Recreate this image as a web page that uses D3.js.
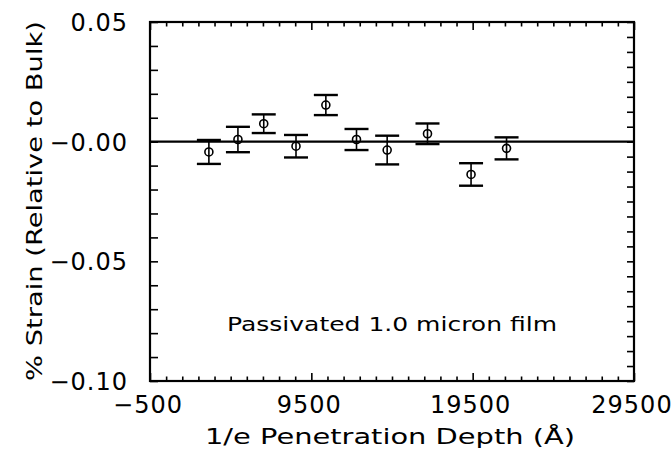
<!DOCTYPE html>
<html><head><meta charset="utf-8">
<script src="https://cdn.jsdelivr.net/npm/d3@7"></script>
<style>body{margin:0;background:#fff} svg{display:block}</style>
</head><body><svg id="c" width="672" height="452"></svg>
<script>
// Data
const depth = [3150, 4950, 6550, 8550, 10400, 12300, 14200, 16700, 19400, 21600];
const strain = [-0.0043, 0.0009, 0.0075, -0.0019, 0.0153, 0.0009, -0.0035, 0.0033, -0.0137, -0.0028];
const strainErr = [0.0050, 0.0053, 0.0039, 0.0047, 0.0042, 0.0044, 0.0060, 0.0043, 0.0047, 0.0046];
const xTickValues = [-500, 9500, 19500, 29500];
const xTickLabels = ["\u2212500", "9500", "19500", "29500"];
const yTickValues = [0.05, 0, -0.05, -0.10];
const yTickLabels = ["0.05", "\u22120.00", "\u22120.05", "\u22120.10"];
const xTitle = "1/e Penetration Depth (\u00C5)";
const yTitle = "% Strain (Relative to Bulk)";
const note = "Passivated 1.0 micron film";

const svg = d3.select("#c");
const L = 150, R = 634, T = 22, B = 381;
const x = d3.scaleLinear().domain([-500, 29500]).range([L, R]);
const y = d3.scaleLinear().domain([-0.10, 0.05]).range([B, T]);
const font = "'DejaVu Sans', sans-serif";

// minor tick definitions
const xMinor = d3.range(-500, 29501, 1000);
const yMinorL = d3.range(0, 16).map(i => 0.05 - i * 0.01);
const yMinorR = d3.range(0, 25).map(i => 0.05 - i * 0.00625);

const g = svg.append("g").attr("stroke", "#000").attr("fill", "none");

// bottom axis (ticks inward)
const xb = d3.axisBottom(x).tickValues(xMinor).tickSize(-4).tickFormat("");
const gxb = svg.append("g").attr("transform", `translate(0,${B})`).call(xb);
const xt = d3.axisTop(x).tickValues(xMinor).tickSize(-4).tickFormat("");
const gxt = svg.append("g").attr("transform", `translate(0,${T})`).call(xt);
[gxb, gxt].forEach(a => {
  a.select(".domain").remove();
  a.selectAll(".tick line").attr("stroke", "#000").attr("stroke-width", 1.6)
    .attr("y2", d => (xTickValues.includes(d) ? 8 : 4.5) * (a === gxb ? -1 : 1));
});
const yl = d3.axisLeft(y).tickValues(yMinorL).tickSize(-8).tickFormat("");
const gyl = svg.append("g").attr("transform", `translate(${L},0)`).call(yl);
const yr = d3.axisRight(y).tickValues(yMinorR).tickSize(-7).tickFormat("");
const gyr = svg.append("g").attr("transform", `translate(${R},0)`).call(yr);
[gyl, gyr].forEach(a => {
  a.select(".domain").remove();
  a.selectAll(".tick line").attr("stroke", "#000").attr("stroke-width", 1.6);
});

// frame
svg.append("rect").attr("x", L).attr("y", T).attr("width", R - L).attr("height", B - T)
  .attr("fill", "none").attr("stroke", "#000").attr("stroke-width", 2.2);

// zero line
svg.append("line").attr("x1", L).attr("x2", R).attr("y1", y(0)).attr("y2", y(0))
  .attr("stroke", "#000").attr("stroke-width", 2.2);

// tick labels
svg.append("g").selectAll("text").data(xTickValues).join("text")
  .attr("x", d => x(d) - 2).attr("y", 413)
  .attr("text-anchor", "middle").attr("font-family", font).attr("font-size", 24)
  .attr("letter-spacing", 1)
  .text((d, i) => xTickLabels[i]);
svg.append("g").selectAll("text").data(yTickValues).join("text")
  .attr("x", 128).attr("y", d => y(d) + 9)
  .attr("text-anchor", "end").attr("font-family", font).attr("font-size", 24)
  .attr("letter-spacing", 1)
  .text((d, i) => yTickLabels[i]);

// titles
svg.append("text").attr("x", 390).attr("y", 444).attr("text-anchor", "middle")
  .attr("font-family", font).attr("font-size", 22)
  .attr("textLength", 370).attr("lengthAdjust", "spacingAndGlyphs").text(xTitle);
svg.append("text").attr("transform", "translate(42,201) rotate(-90)").attr("text-anchor", "middle")
  .attr("font-family", font).attr("font-size", 22)
  .attr("textLength", 360).attr("lengthAdjust", "spacingAndGlyphs").text(yTitle);
svg.append("text").attr("x", 227).attr("y", 331)
  .attr("font-family", font).attr("font-size", 20)
  .attr("textLength", 330).attr("lengthAdjust", "spacingAndGlyphs").text(note);

// data with error bars
const pts = depth.map((d, i) => ({x: d, y: strain[i], e: strainErr[i]}));
const pg = svg.append("g").attr("stroke", "#000").attr("fill", "none");
pg.selectAll("line.v").data(pts).join("line").attr("class", "v")
  .attr("x1", d => x(d.x)).attr("x2", d => x(d.x))
  .attr("y1", d => y(d.y + d.e)).attr("y2", d => y(d.y - d.e)).attr("stroke-width", 1.6);
pg.selectAll("line.cu").data(pts).join("line").attr("class", "cu")
  .attr("x1", d => x(d.x) - 12).attr("x2", d => x(d.x) + 12)
  .attr("y1", d => y(d.y + d.e)).attr("y2", d => y(d.y + d.e)).attr("stroke-width", 2.4);
pg.selectAll("line.cl").data(pts).join("line").attr("class", "cl")
  .attr("x1", d => x(d.x) - 12).attr("x2", d => x(d.x) + 12)
  .attr("y1", d => y(d.y - d.e)).attr("y2", d => y(d.y - d.e)).attr("stroke-width", 2.4);
pg.selectAll("circle").data(pts).join("circle")
  .attr("cx", d => x(d.x)).attr("cy", d => y(d.y)).attr("r", 4)
  .attr("stroke-width", 1.6).attr("fill", "none");
</script></body></html>
